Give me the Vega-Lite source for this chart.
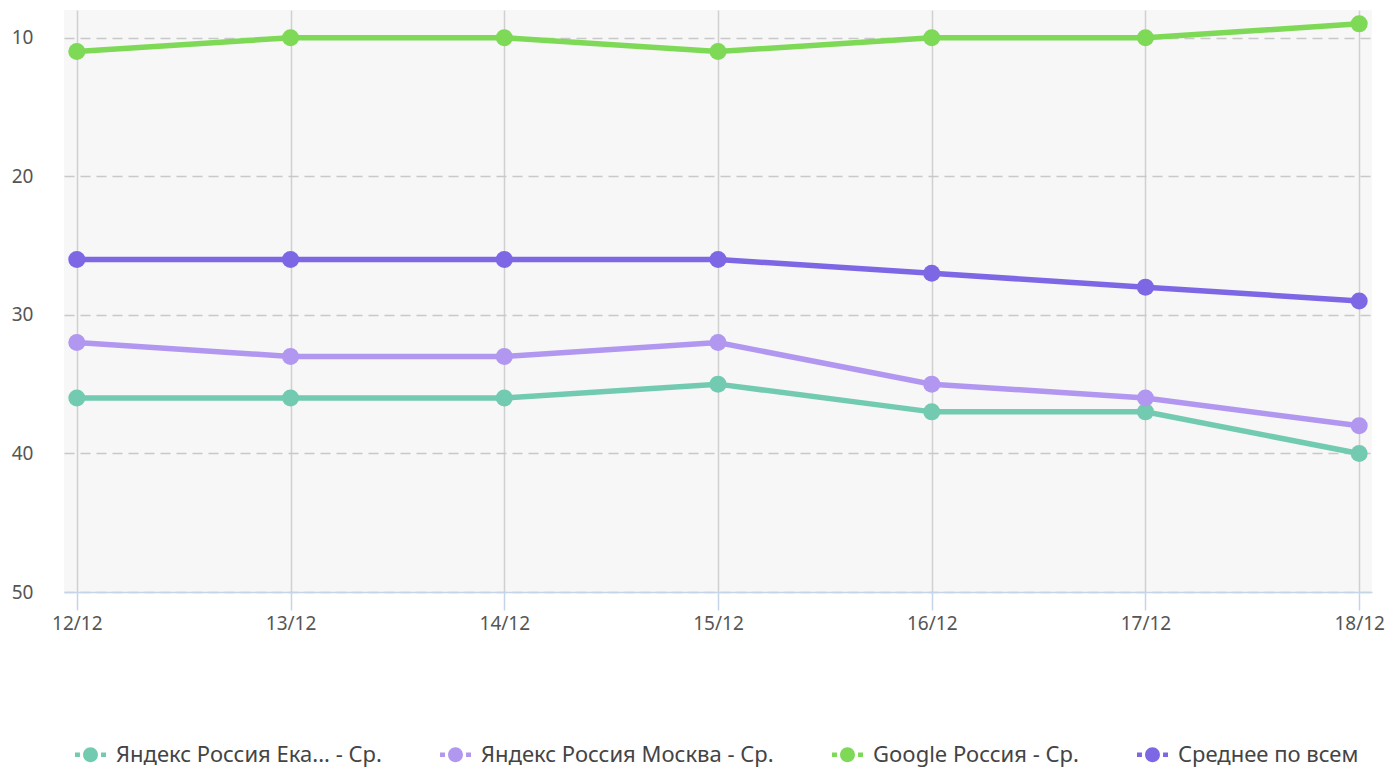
{
  "$schema": "https://vega.github.io/schema/vega-lite/v6.json",
  "autosize": {"type": "none"},
  "width": 1308,
  "height": 582,
  "padding": {"left": 64, "top": 10, "right": 18, "bottom": 175},
  "background": "white",
  "config": {
    "view": {"fill": "#f7f7f7", "stroke": null},
    "font": "Noto Sans"
  },
  "data": {
    "values": [
      {"date": "12/12", "series": "Яндекс Россия Ека... - Ср.", "value": 36},
      {"date": "13/12", "series": "Яндекс Россия Ека... - Ср.", "value": 36},
      {"date": "14/12", "series": "Яндекс Россия Ека... - Ср.", "value": 36},
      {"date": "15/12", "series": "Яндекс Россия Ека... - Ср.", "value": 35},
      {"date": "16/12", "series": "Яндекс Россия Ека... - Ср.", "value": 37},
      {"date": "17/12", "series": "Яндекс Россия Ека... - Ср.", "value": 37},
      {"date": "18/12", "series": "Яндекс Россия Ека... - Ср.", "value": 40},
      {"date": "12/12", "series": "Яндекс Россия Москва - Ср.", "value": 32},
      {"date": "13/12", "series": "Яндекс Россия Москва - Ср.", "value": 33},
      {"date": "14/12", "series": "Яндекс Россия Москва - Ср.", "value": 33},
      {"date": "15/12", "series": "Яндекс Россия Москва - Ср.", "value": 32},
      {"date": "16/12", "series": "Яндекс Россия Москва - Ср.", "value": 35},
      {"date": "17/12", "series": "Яндекс Россия Москва - Ср.", "value": 36},
      {"date": "18/12", "series": "Яндекс Россия Москва - Ср.", "value": 38},
      {"date": "12/12", "series": "Google Россия - Ср.", "value": 11},
      {"date": "13/12", "series": "Google Россия - Ср.", "value": 10},
      {"date": "14/12", "series": "Google Россия - Ср.", "value": 10},
      {"date": "15/12", "series": "Google Россия - Ср.", "value": 11},
      {"date": "16/12", "series": "Google Россия - Ср.", "value": 10},
      {"date": "17/12", "series": "Google Россия - Ср.", "value": 10},
      {"date": "18/12", "series": "Google Россия - Ср.", "value": 9},
      {"date": "12/12", "series": "Среднее по всем", "value": 26},
      {"date": "13/12", "series": "Среднее по всем", "value": 26},
      {"date": "14/12", "series": "Среднее по всем", "value": 26},
      {"date": "15/12", "series": "Среднее по всем", "value": 26},
      {"date": "16/12", "series": "Среднее по всем", "value": 27},
      {"date": "17/12", "series": "Среднее по всем", "value": 28},
      {"date": "18/12", "series": "Среднее по всем", "value": 29}
    ]
  },
  "encoding": {
    "x": {
      "field": "date",
      "type": "ordinal",
      "scale": {"type": "point", "padding": 0.06},
      "axis": {
        "title": null,
        "labelAngle": 0,
        "labelFontSize": 19,
        "labelColor": "#555555",
        "labelPadding": 4,
        "domainColor": "#c5d5e8",
        "domainWidth": 1.5,
        "tickColor": "#c5d5e8",
        "tickWidth": 1.5,
        "tickSize": 18,
        "grid": true,
        "gridColor": "#d0d0d0",
        "gridWidth": 1.5
      }
    },
    "y": {
      "field": "value",
      "type": "quantitative",
      "scale": {"domain": [8, 50], "reverse": true, "nice": false, "zero": false},
      "axis": {
        "title": null,
        "values": [10, 20, 30, 40, 50],
        "labelFontSize": 19,
        "labelColor": "#555555",
        "labelPadding": 31,
        "domain": false,
        "ticks": false,
        "grid": true,
        "gridColor": "#c8c8c8",
        "gridWidth": 1.5,
        "gridDash": [10, 6]
      }
    },
    "color": {
      "field": "series",
      "type": "nominal",
      "scale": {
        "domain": ["Яндекс Россия Ека... - Ср.", "Яндекс Россия Москва - Ср.", "Google Россия - Ср.", "Среднее по всем"],
        "range": ["#72cbb0", "#b197f0", "#7ed957", "#7e67e4"]
      },
      "legend": {
        "title": null,
        "orient": "none",
        "legendX": 11,
        "legendY": 729,
        "direction": "horizontal",
        "columns": 4,
        "columnPadding": 58,
        "labelFontSize": 22,
        "labelColor": "#444444",
        "labelLimit": 400,
        "symbolType": "M -0.48 0 A 0.48 0.48 0 1 0 0.48 0 A 0.48 0.48 0 1 0 -0.48 0 Z M -1 -0.15 L -0.68 -0.15 L -0.68 0.15 L -1 0.15 Z M 0.68 -0.15 L 1 -0.15 L 1 0.15 L 0.68 0.15 Z",
        "symbolSize": 961,
        "symbolStrokeWidth": 0,
        "symbolOpacity": 1,
        "labelOffset": 10
      }
    }
  },
  "layer": [
    {"mark": {"type": "line", "strokeWidth": 5.5}},
    {"mark": {"type": "point", "filled": true, "opacity": 1, "size": 290}}
  ]
}
